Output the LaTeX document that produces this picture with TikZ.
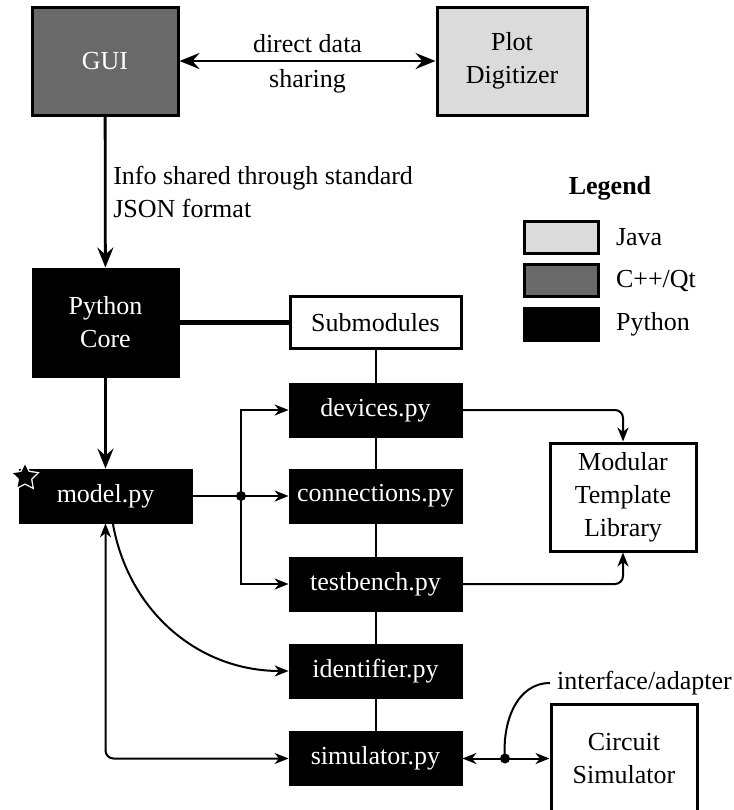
\documentclass[tikz,border=0pt]{standalone}
\usepackage{fontspec}
\setmainfont{Liberation Serif}
\usetikzlibrary{arrows.meta,positioning,shapes.geometric}
\definecolor{javagray}{gray}{0.86}
\definecolor{qtgray}{gray}{0.41}
\tikzset{%
  font=\fontsize{13}{16.5}\selectfont,
  >={Stealth[length=7pt,width=5.5pt,inset=2.2pt]},
  bigblock/.style={rectangle,draw,line width=1.5pt,minimum width=73pt,minimum height=54pt,align=center,inner sep=0pt},
  pyblock/.style={rectangle,draw,fill=black,text=white,minimum width=86.5pt,minimum height=27pt,inner sep=0pt},
  legbox/.style={rectangle,draw,line width=1.5pt,minimum width=37pt,minimum height=16pt},
  line/.style={draw,line width=1pt},
  fat/.style={draw,line width=1.4pt,>={Stealth[length=10pt,width=8pt,inset=3.5pt]}},
  dot/.style={circle,fill,inner sep=0pt,minimum size=5pt},
  mark star/.style={star,star points=5,star point ratio=2,inner sep=0pt}
}

\begin{document}
\begin{tikzpicture}[x=0.5pt,y=-0.5pt]
	\useasboundingbox (0,0) rectangle (734,810);
	% main blocks
	\node[bigblock,fill=qtgray,text=white] (gui) at (105,61) {GUI};
	\node[bigblock,fill=javagray,minimum width=75pt] (plotdig) at (512,61) {Plot\\Digitizer};
	\node[bigblock,fill=black,text=white,line width=1pt] (core) at (105.5,322.5) {Python\\Core};
	\node[bigblock,minimum width=85.5pt,minimum height=26pt] (submod) at (375.5,322.5) {Submodules};
	\node[pyblock] (model) at (105.5,496) {model.py};
	\node[mark star,fill=white,minimum size=15.5pt] (starbg) at (25,477) {};
	\node[mark star,fill=black,minimum size=12.5pt] (star) at (25,477) {};
	\node[pyblock] (devices) at (375.5,410) {devices.py};
	\node[pyblock] (connections) at (375.5,496) {connections.py};
	\node[pyblock] (testbench) at (375.5,584) {testbench.py};
	\node[pyblock] (identifier) at (375.5,671) {identifier.py};
	\node[pyblock] (simulator) at (375.5,758.5) {simulator.py};
	\node[bigblock] (mtl) at (623,497) {Modular\\Template\\Library};
	\node[bigblock] (circsim) at (624,758.5) {Circuit\\Simulator};
	% legend
	\node[font=\fontsize{13}{16.5}\selectfont\bfseries] (legend) at (610,188) {Legend};
	\node[legbox,fill=javagray] (ljava) at (561.5,237) {};
	\node[legbox,fill=qtgray] (lqt) at (561.5,280.5) {};
	\node[legbox,fill=black] (lpy) at (561.5,324.5) {};
	\node[right=4.5pt of ljava] (ljavatxt) {Java};
	\node[right=4.5pt of lqt] (lqttxt) {C++/Qt};
	\node[right=4.5pt of lpy] (lpytxt) {Python};
	% connectors
	\draw[fat,<->] (gui) -- (plotdig) node[midway,above=0pt] (dd1) {direct data} node[midway,below=0pt] (dd2) {sharing};
	\draw[fat,->] (gui) -- (core) node[midway,right,align=left] (json) {Info shared through standard\\JSON format};
	\draw[line width=2.5pt] (core) -- (submod);
	\draw[line] (submod) -- (devices) (devices) -- (connections) (connections) -- (testbench)
		(testbench) -- (identifier) (identifier) -- (simulator);
	\draw[fat,->] (core) -- (model);
	\coordinate (split) at (241,496);
	\draw[line] (model) -- (split);
	\draw[line,->] (split) -- (connections);
	\draw[line,->] (split) |- (devices);
	\draw[line,->] (split) |- (testbench);
	\node[dot] (splitdot) at (split) {};
	\draw[line,->,rounded corners=4pt] (devices) -| (mtl);
	\draw[line,->,rounded corners=4pt] (testbench) -| (mtl);
	\draw[line,->] (model.-75) to[out=-80,in=180] (identifier);
	\draw[line,<->,rounded corners=4pt] (model) |- (simulator);
	% simulator adapter
	\coordinate (tap) at (505,758.5);
	\draw[line,<->] (simulator) -- (circsim);
	\node[dot] (tapdot) at (tap) {};
	\node[anchor=west] (iface) at (550,683) {interface/adapter};
	\draw[line] (tap) to[out=95,in=180] (iface.west);
\end{tikzpicture}
\end{document}
